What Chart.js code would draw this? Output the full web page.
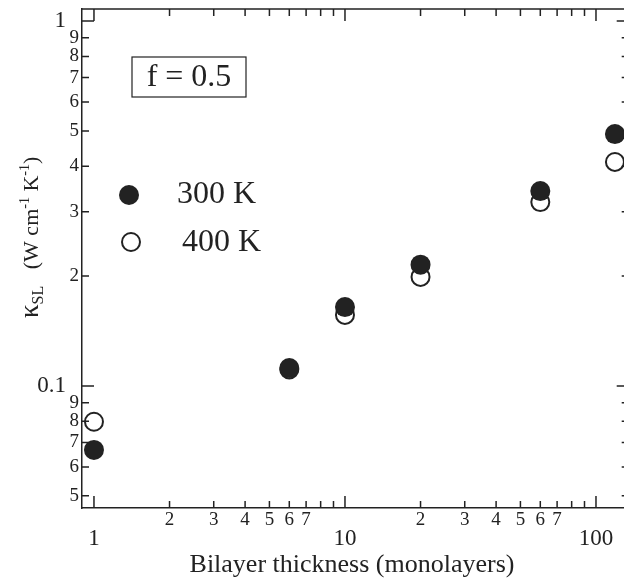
<!DOCTYPE html>
<html>
<head>
<meta charset="utf-8">
<script src="https://cdn.jsdelivr.net/npm/chart.js@4"></script>
<style>
  html, body { margin: 0; padding: 0; background: #fff; overflow: hidden; }
</style>
</head>
<body>
<canvas id="kappaChart" width="624" height="582"></canvas>
<script>
// bilayer thickness (monolayers) and kappa_SL (W cm-1 K-1)
var thickness = [1, 6, 10, 20, 60, 119];
var kappa300 = [0.0668, 0.112, 0.1645, 0.215, 0.342, 0.490];
var kappa400 = [0.0798, 0.111, 0.1566, 0.199, 0.319, 0.411];

var xMajor = [1, 10, 100];
var xMinor = [2, 3, 4, 5, 6, 7, 8, 9, 20, 30, 40, 50, 60, 70, 80, 90];
var xMinorLabels = ['2', '3', '4', '5', '6', '7', '', '', '2', '3', '4', '5', '6', '7', '', ''];
var yMajor = [0.1, 1];
var yMajorLabels = ['0.1', '1'];
var yMinor = [0.05, 0.06, 0.07, 0.08, 0.09, 0.2, 0.3, 0.4, 0.5, 0.6, 0.7, 0.8, 0.9];
var yMinorLabels = ['5', '6', '7', '8', '9', '2', '3', '4', '5', '6', '7', '8', '9'];
var xFrameEnd = 135; // right frame line lies just past the canvas edge

var seriesNames = ['300 K', '400 K'];
var serif = '"Liberation Serif", "DejaVu Serif", serif';

function toPoints(xs, ys){
    return xs.map(function(x, i){ return {x: x, y: ys[i]}; });
}

var framePlugin = {
    id: 'frame',
    afterDraw: function(chart){
        var ctx = chart.ctx;
        var area = chart.chartArea;
        var xs = chart.scales.x;
        var ys = chart.scales.y;
        var right = xs.getPixelForValue(xFrameEnd);
        ctx.save();
        ctx.strokeStyle = '#222';
        ctx.fillStyle = '#222';
        ctx.lineWidth = 1.5;

        // top and right axis lines
        ctx.beginPath();
        ctx.moveTo(area.left, area.top);
        ctx.lineTo(right, area.top);
        ctx.lineTo(right, area.bottom);
        ctx.stroke();

        // tick marks, all pointing inward
        function xTick(v, len){
            var px = xs.getPixelForValue(v);
            ctx.beginPath();
            ctx.moveTo(px, area.bottom); ctx.lineTo(px, area.bottom - len);
            ctx.moveTo(px, area.top); ctx.lineTo(px, area.top + len);
            ctx.stroke();
        }
        function yTick(v, len){
            var py = ys.getPixelForValue(v);
            ctx.beginPath();
            ctx.moveTo(area.left, py); ctx.lineTo(area.left + len, py);
            ctx.moveTo(right, py); ctx.lineTo(right - len, py);
            ctx.stroke();
        }
        xMajor.forEach(function(v){ xTick(v, 12); });
        xMinor.forEach(function(v){ xTick(v, 7); });
        yMajor.forEach(function(v){ yTick(v, 12); });
        yMinor.forEach(function(v){ yTick(v, 7); });

        // tick labels
        ctx.textBaseline = 'middle';
        ctx.textAlign = 'center';
        ctx.font = '19px ' + serif;
        xMinor.forEach(function(v, i){
            ctx.fillText(xMinorLabels[i], xs.getPixelForValue(v), area.bottom + 12);
        });
        ctx.font = '23px ' + serif;
        xMajor.forEach(function(v){
            ctx.fillText(String(v), xs.getPixelForValue(v), area.bottom + 31);
        });
        ctx.textAlign = 'right';
        ctx.font = '19px ' + serif;
        yMinor.forEach(function(v, i){
            ctx.fillText(yMinorLabels[i], area.left - 3, ys.getPixelForValue(v));
        });
        ctx.font = '23px ' + serif;
        yMajor.forEach(function(v, i){
            ctx.fillText(yMajorLabels[i], area.left - 16, ys.getPixelForValue(v));
        });

        // x title
        ctx.textAlign = 'center';
        ctx.font = '26px ' + serif;
        ctx.fillText('Bilayer thickness (monolayers)', 352, 565);

        // y title, rotated
        ctx.save();
        ctx.translate(38, 318);
        ctx.rotate(-Math.PI / 2);
        ctx.textAlign = 'left';
        ctx.textBaseline = 'alphabetic';
        var x = 0;
        function put(txt, size, dy){
            ctx.font = size + 'px ' + serif;
            ctx.fillText(txt, x, dy);
            x += ctx.measureText(txt).width;
        }
        put('\u03BA', 27, 0);
        put('SL', 16, 5);
        put('   (W cm', 22, 0);
        put('-1', 14, -9);
        put(' K', 22, 0);
        put('-1', 14, -9);
        put(')', 22, 0);
        ctx.restore();

        // f = 0.5 box
        ctx.lineWidth = 1.2;
        ctx.strokeRect(132, 57, 114, 40);
        ctx.textAlign = 'center';
        ctx.textBaseline = 'middle';
        ctx.font = '32px ' + serif;
        ctx.fillText('f = 0.5', 189, 78);

        // legend
        ctx.beginPath();
        ctx.arc(129, 195, 10, 0, Math.PI * 2);
        ctx.fill();
        ctx.beginPath();
        ctx.lineWidth = 2;
        ctx.arc(131, 242, 9, 0, Math.PI * 2);
        ctx.stroke();
        ctx.textAlign = 'left';
        ctx.font = '32px ' + serif;
        ctx.fillText(seriesNames[0], 177, 195);
        ctx.fillText(seriesNames[1], 182, 243);

        ctx.restore();
    }
};

function createChart(){
    var ctx = document.getElementById('kappaChart').getContext('2d');
    new Chart(ctx, {
        type: 'scatter',
        data: {
            datasets: [{
                label: seriesNames[0],
                data: toPoints(thickness, kappa300),
                pointRadius: 10,
                pointBackgroundColor: '#222',
                pointBorderColor: '#222',
                pointBorderWidth: 0,
                order: 0
            }, {
                label: seriesNames[1],
                data: toPoints(thickness, kappa400),
                pointRadius: 9,
                pointBackgroundColor: '#fff',
                pointBorderColor: '#222',
                pointBorderWidth: 2,
                order: 1
            }]
        },
        options: {
            responsive: false,
            animation: false,
            devicePixelRatio: 1,
            layout: { autoPadding: false, padding: { left: 82, top: 9, right: 0, bottom: 74 } },
            plugins: {
                legend: { display: false },
                tooltip: { enabled: false }
            },
            scales: {
                x: {
                    type: 'logarithmic',
                    min: 0.896,
                    max: 129.3,
                    grid: { display: false, drawTicks: false },
                    border: { display: true, color: '#222', width: 1.5 },
                    ticks: { display: false }
                },
                y: {
                    type: 'logarithmic',
                    min: 0.0463,
                    max: 1.079,
                    grid: { display: false, drawTicks: false },
                    border: { display: true, color: '#222', width: 1.5 },
                    ticks: { display: false }
                }
            }
        },
        plugins: [framePlugin]
    });
}

createChart();
</script>
</body>
</html>
